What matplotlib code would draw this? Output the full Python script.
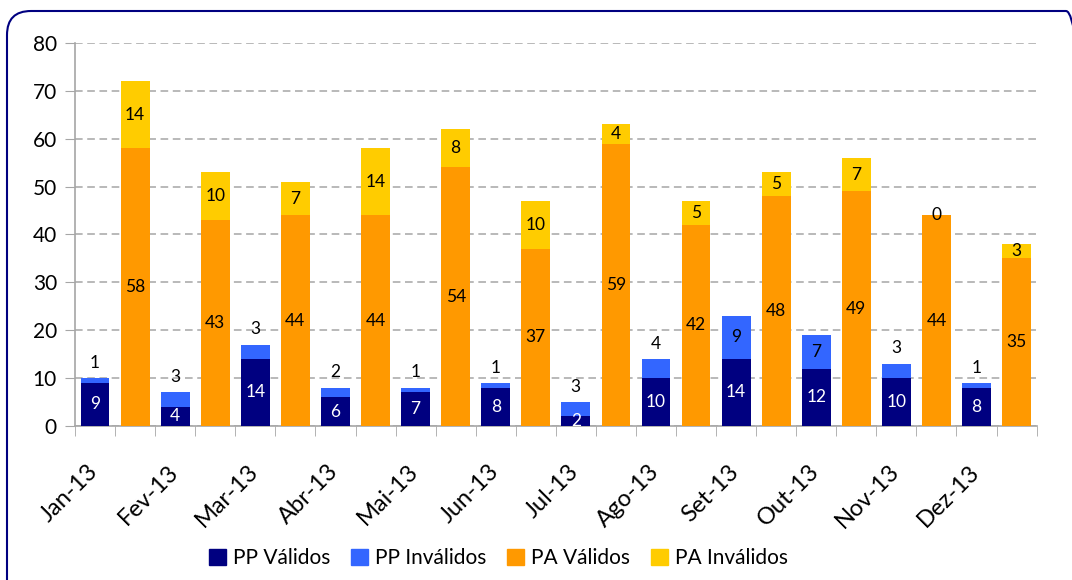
import numpy as np
import matplotlib
matplotlib.use("Agg")
import matplotlib.pyplot as plt
import matplotlib.transforms as mtransforms
from matplotlib.patches import FancyBboxPatch, Patch

plt.rcParams['font.family'] = ['Lato', 'DejaVu Sans']

meses = ['Jan-13', 'Fev-13', 'Mar-13', 'Abr-13', 'Mai-13', 'Jun-13',
         'Jul-13', 'Ago-13', 'Set-13', 'Out-13', 'Nov-13', 'Dez-13']
pp_validos = [9, 4, 14, 6, 7, 8, 2, 10, 14, 12, 10, 8]
pp_invalidos = [1, 3, 3, 2, 1, 1, 3, 4, 9, 7, 3, 1]
pa_validos = [58, 43, 44, 44, 54, 37, 59, 42, 48, 49, 44, 35]
pa_invalidos = [14, 10, 7, 14, 8, 10, 4, 5, 5, 7, 0, 3]

c_ppv = '#000080'
c_ppi = '#3366FF'
c_pav = '#FF9900'
c_pai = '#FFCC00'

fig = plt.figure(figsize=(10.72, 5.80), dpi=100)
ax = fig.add_axes([0.070, 0.2655, 0.897, 0.6604])

n = len(meses)
x_pp = np.arange(n) * 2
x_pa = x_pp + 1
w = 0.72

ax.bar(x_pp, pp_validos, w, color=c_ppv, zorder=3)
ax.bar(x_pp, pp_invalidos, w, bottom=pp_validos, color=c_ppi, zorder=3)
ax.bar(x_pa, pa_validos, w, color=c_pav, zorder=3)
ax.bar(x_pa, pa_invalidos, w, bottom=pa_validos, color=c_pai, zorder=3)

fs = 12.5
lbl = dict(ha='center', va='center', fontsize=fs, zorder=4)
for i in range(n):
    ax.text(x_pp[i], pp_validos[i] / 2, str(pp_validos[i]), color='white', **lbl)
    top = pp_validos[i] + pp_invalidos[i]
    if pp_invalidos[i] >= 5:
        ax.text(x_pp[i], pp_validos[i] + pp_invalidos[i] / 2, str(pp_invalidos[i]),
                color='black', **lbl)
    else:
        ax.annotate(str(pp_invalidos[i]), (x_pp[i], top), xytext=(0, 11),
                    textcoords='offset points', ha='center', va='center',
                    fontsize=fs, color='black')
    ax.text(x_pa[i], pa_validos[i] / 2, str(pa_validos[i]), color='black', **lbl)
    ax.text(x_pa[i], pa_validos[i] + pa_invalidos[i] / 2, str(pa_invalidos[i]),
            color='black', **lbl)

ax.set_xlim(-0.5, 2 * n - 0.5)
ax.set_ylim(0, 80)
ax.set_yticks(range(0, 81, 10))
ax.yaxis.grid(True, linestyle=(0, (5, 3)), color='#a6a6a6', linewidth=1.1, zorder=0)
ax.tick_params(axis='y', labelsize=15, length=7, color='#a6a6a6', pad=6)

ax.set_xticks(x_pp)
ax.set_xticklabels(meses, rotation=45, ha='right', rotation_mode='anchor', fontsize=17)
ax.set_xticks(np.arange(-0.5, 2 * n, 1), minor=True)
ax.tick_params(axis='x', which='major', length=0, pad=25)
ax.tick_params(axis='x', which='minor', length=7, color='#a6a6a6')
shift = mtransforms.ScaledTranslation(-8 / 100, 0, fig.dpi_scale_trans)
for t in ax.get_xticklabels():
    t.set_transform(t.get_transform() + shift)

for s in ['top', 'right']:
    ax.spines[s].set_visible(False)
for s in ['left', 'bottom']:
    ax.spines[s].set_color('#a6a6a6')
    ax.spines[s].set_linewidth(1.2)

handles = [Patch(color=c_ppv, label='PP Válidos'),
           Patch(color=c_ppi, label='PP Inválidos'),
           Patch(color=c_pav, label='PA Válidos'),
           Patch(color=c_pai, label='PA Inválidos')]
fig.legend(handles=handles, loc='center', bbox_to_anchor=(0.465, 0.038), ncol=4,
           frameon=False, fontsize=15, handlelength=0.8, handleheight=0.8,
           handletextpad=0.35, columnspacing=1.0)

# moldura arredondada
border = FancyBboxPatch((7, -40), 1083, 609, boxstyle='round,pad=0,rounding_size=24',
                        transform=None, fill=False, edgecolor='#000080', linewidth=1.5)
fig.patches.append(border)

fig.savefig('out.png', dpi=100)
